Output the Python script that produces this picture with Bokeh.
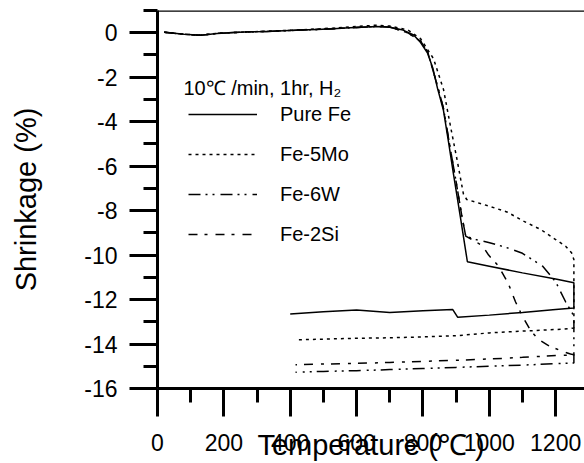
from bokeh.plotting import figure
from bokeh.models import FixedTicker, Span, Legend, LegendItem, Label, Range1d
from bokeh.embed import file_html
from bokeh.resources import INLINE

# ---------------- data ----------------
x_ticks = [0, 200, 400, 600, 800, 1000, 1200]
x_minor = [100, 300, 500, 700, 900, 1100, 1300]
y_ticks = [-16, -14, -12, -10, -8, -6, -4, -2, 0]
y_minor = [-15, -13, -11, -9, -7, -5, -3, -1, 1]

pure_fe_T = [20, 50, 80, 130, 180, 230, 280, 330, 380, 430, 480, 530, 580, 630, 660, 700, 740, 772, 793, 814, 830, 844, 862, 877, 892, 912, 934, 1000, 1100, 1200, 1255,
             1255, 1200, 1100, 1000, 905, 890, 800, 700, 600, 500, 400]
pure_fe_S = [0.02, -0.02, -0.07, -0.11, -0.03, 0.01, 0.04, 0.06, 0.09, 0.12, 0.15, 0.18, 0.22, 0.26, 0.28, 0.25, 0.12, -0.1, -0.44, -0.92, -1.6, -2.5, -3.5, -4.9, -6.35, -8.2, -10.3, -10.5, -10.8, -11.08, -11.24,
             -12.38, -12.45, -12.58, -12.7, -12.8, -12.45, -12.5, -12.58, -12.47, -12.55, -12.65]

fe5mo_T = [20, 50, 80, 130, 180, 230, 280, 330, 380, 430, 480, 530, 580, 630, 660, 700, 754, 793, 832, 862, 883, 904, 922, 932, 1000, 1055, 1100, 1155, 1200, 1230, 1248, 1255,
           1255, 1224, 1100, 1000, 904, 800, 700, 600, 500, 416]
fe5mo_S = [0.02, -0.02, -0.07, -0.11, -0.03, 0.01, 0.04, 0.07, 0.1, 0.13, 0.17, 0.21, 0.26, 0.31, 0.34, 0.3, 0.13, -0.27, -1.17, -2.55, -4.2, -5.8, -7.25, -7.5, -7.8, -8.07, -8.45, -8.85, -9.3, -9.6, -9.9, -10.2,
           -13.28, -13.33, -13.42, -13.5, -13.62, -13.68, -13.72, -13.74, -13.78, -13.81]

fe6w_T = [20, 50, 80, 130, 180, 230, 280, 330, 380, 430, 480, 530, 580, 630, 660, 700, 754, 793, 814, 844, 862, 880, 900, 918, 929, 960, 998, 1050, 1100, 1161, 1200, 1230, 1250, 1255,
          1255, 1200, 1100, 1000, 900, 800, 700, 600, 500, 416]
fe6w_S = [0.02, -0.02, -0.07, -0.11, -0.03, 0.01, 0.04, 0.06, 0.09, 0.12, 0.15, 0.18, 0.22, 0.26, 0.28, 0.26, 0.0, -0.38, -0.85, -2.4, -3.4, -5.0, -6.7, -8.3, -9.15, -9.3, -9.43, -9.65, -9.92, -10.5, -11.2, -12.1, -12.6, -12.8,
          -14.85, -14.88, -14.95, -15.0, -15.05, -15.1, -15.15, -15.2, -15.23, -15.27]

fe2si_T = [20, 50, 80, 130, 180, 230, 280, 330, 380, 430, 480, 530, 580, 630, 660, 700, 754, 793, 814, 844, 862, 880, 900, 918, 929, 960, 980, 998, 1028, 1058, 1079, 1100, 1125, 1149, 1176, 1215, 1245, 1255,
           1255, 1206, 1100, 1004, 900, 800, 700, 600, 500, 416]
fe2si_S = [0.02, -0.02, -0.07, -0.11, -0.03, 0.01, 0.04, 0.06, 0.09, 0.12, 0.15, 0.18, 0.22, 0.26, 0.28, 0.26, 0.0, -0.38, -0.85, -2.4, -3.4, -5.0, -6.7, -8.3, -9.15, -9.4, -9.6, -10.0, -10.5, -11.3, -12.1, -12.75, -13.4, -13.8, -14.05, -14.3, -14.45, -14.48,
           -14.5, -14.51, -14.6, -14.67, -14.73, -14.78, -14.83, -14.87, -14.9, -14.93]

series_names = ["Pure Fe", "Fe-5Mo", "Fe-6W", "Fe-2Si"]
condition_text = "10\u2103 /min, 1hr, H\u2082"
x_title = "Temperature (\u2103 )"
y_title = "Shrinkage (%)"

FONT = "Liberation Sans"

p = figure(width=584, height=463, output_backend="svg", toolbar_location=None,
           x_range=Range1d(0, 1287), y_range=Range1d(-16, 1),
           min_border_left=157, min_border_right=0, min_border_top=10, min_border_bottom=0)
p.grid.visible = False
p.outline_line_color = None
p.background_fill_color = "white"
p.border_fill_color = "white"

p.xaxis.ticker = FixedTicker(ticks=x_ticks, minor_ticks=x_minor)
p.yaxis.ticker = FixedTicker(ticks=y_ticks, minor_ticks=y_minor)
p.yaxis.major_label_overrides = {t: str(t) for t in y_ticks}

for ax in (p.xaxis[0], p.yaxis[0]):
    ax.axis_line_width = 3
    ax.major_tick_line_width = 3
    ax.minor_tick_line_width = 3
    ax.major_tick_out = 28
    ax.major_tick_in = 0
    ax.minor_tick_out = 14
    ax.minor_tick_in = 0
    ax.major_label_text_font = FONT
    ax.major_label_text_font_size = "23px"
    ax.major_label_text_color = "black"
    ax.axis_label_text_font = FONT
    ax.axis_label_text_font_size = "29px"
    ax.axis_label_text_font_style = "normal"
    ax.axis_label_text_color = "black"

p.xaxis.axis_label = x_title
p.yaxis.axis_label = y_title
p.xaxis.major_label_standoff = 17
p.yaxis.major_label_standoff = 12
p.xaxis.axis_label_standoff = -25
p.yaxis.axis_label_standoff = 39

p.add_layout(Span(location=1, dimension="width", line_color="black", line_width=2.5))

r1 = p.line(pure_fe_T, pure_fe_S, line_color="black", line_width=1.5)
r2 = p.line(fe5mo_T, fe5mo_S, line_color="black", line_width=1.5, line_dash="3 4")
r3 = p.line(fe6w_T, fe6w_S, line_color="black", line_width=1.5, line_dash="12 5 2 5 2 6")
r4 = p.line(fe2si_T, fe2si_S, line_color="black", line_width=1.5, line_dash="9 7 3 8")

legend = Legend(items=[LegendItem(label=n, renderers=[r]) for n, r in zip(series_names, [r1, r2, r3, r4])],
                location=(31, 142), glyph_width=69, glyph_height=24, label_height=24,
                label_standoff=23, spacing=16, padding=0, margin=0,
                border_line_color=None, background_fill_alpha=0,
                label_text_font=FONT, label_text_font_size="20px", label_text_color="black")
p.add_layout(legend, "center")

p.add_layout(Label(x=78, y=-2.5, text=condition_text,
                   text_font=FONT, text_font_size="20px", text_baseline="middle", text_color="black"))

open("out.html", "w").write(file_html(p, INLINE))
